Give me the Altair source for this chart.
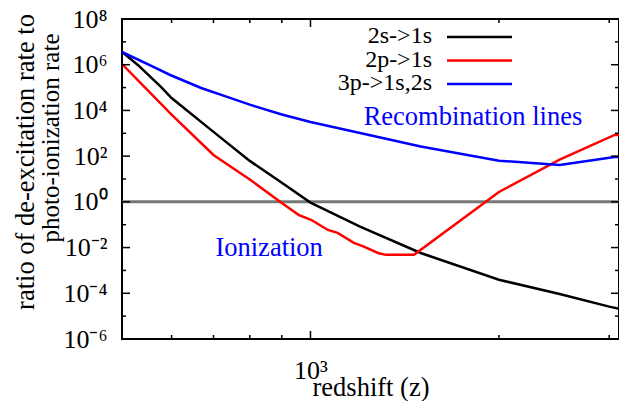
import altair as alt
import pandas as pd

# ---------------- data ----------------
series_names = ["2s->1s", "2p->1s", "3p->1s,2s"]
series_colors = ["#000000", "#ff0000", "#0000ff"]

z_2s = [500, 530, 577, 600, 700, 800, 900, 1000, 1200, 1500, 2000, 2500, 3000, 3222]
v_2s = [3.6e6, 9.8e5, 1.07e5, 3.5e4, 1.15e3, 62, 6.8, 0.93, 0.083, 5.8e-3, 3.9e-4, 9.3e-5, 2.6e-5, 1.7e-5]

z_2p = [500, 600, 700, 800, 900, 957, 1004, 1066, 1105, 1173, 1217, 1282, 1319, 1463, 2000, 2500, 3060, 3222]
v_2p = [1.07e6, 6.6e3, 112, 9.5, 0.89, 0.27, 0.16, 0.059, 0.044, 0.016, 0.011, 5.8e-3, 4.8e-3, 4.8e-3, 2.7, 71, 850, 850]

z_3p = [500, 558, 597, 669, 740, 802, 900, 1000, 1200, 1500, 2000, 2500, 3060, 3222]
v_3p = [3.6e6, 8.7e5, 3.55e5, 9.6e4, 3.7e4, 1.74e4, 6.6e3, 3.1e3, 1.02e3, 263, 63, 41, 91, 91]

reference_level = [1.0]

annot_text = ["Recombination lines", "Ionization"]
annot_z = [1216, 705]
annot_v = [2300, 4.3e-3]

y_major = [1e-6, 1e-4, 1e-2, 1e0, 1e2, 1e4, 1e6, 1e8]
y_major_labels = ["10⁻⁶", "10⁻⁴", "10⁻²", "10⁰", "10²", "10⁴", "10⁶", "10⁸"]
y_minor = [1e-5, 1e-3, 1e-1, 1e1, 1e3, 1e5, 1e7]
x_major = [1000]
x_major_labels = ["10³"]
x_minor = [600, 700, 800, 900, 2000, 3000]

x_title = "redshift (z)"
y_title = ["ratio of de-excitation rate to", "photo-ionization rate"]

# ---------------- layout / style ----------------
W, H = 497, 320
X_MAX = 3110
FONT = "Liberation Serif"
FS = 26
FS_LEG = 24

df = pd.concat([
    pd.DataFrame({"z": z_2s, "v": v_2s, "series": series_names[0]}),
    pd.DataFrame({"z": z_2p, "v": v_2p, "series": series_names[1]}),
    pd.DataFrame({"z": z_3p, "v": v_3p, "series": series_names[2]}),
], ignore_index=True)

xs = alt.Scale(type="log", domain=[500, X_MAX], nice=False)
ys = alt.Scale(type="log", domain=[1e-6, 1e8], nice=False)


def label_expr(values, labels):
    expr = f"'{labels[-1]}'"
    for v, lab in reversed(list(zip(values[:-1], labels[:-1]))):
        expr = f"(datum.value < {v * 1.5!r} ? '{lab}' : {expr})"
    return expr


x_axis = alt.Axis(values=x_major, labelExpr=label_expr(x_major, x_major_labels),
                  ticks=False, tickSize=0, domain=False, grid=False,
                  labelFont=FONT, labelFontSize=FS, labelColor="black", labelPadding=18,
                  title=x_title, titleFont=FONT, titleFontSize=26.5, titleFontWeight="normal",
                  titleColor="black", titleBaseline="alphabetic", titleY=56)
y_axis = alt.Axis(values=y_major, labelExpr=label_expr(y_major, y_major_labels),
                  ticks=False, tickSize=0, domain=False, grid=False,
                  labelFont=FONT, labelFontSize=FS, labelColor="black", labelPadding=15,
                  title=None)

X = lambda: alt.X("z:Q", scale=xs, axis=x_axis)
Y = lambda: alt.Y("v:Q", scale=ys, axis=y_axis)

ref_rule = alt.Chart(pd.DataFrame({"v": reference_level})).mark_rule(
    color="#777777", strokeWidth=3).encode(y=Y())

lines = alt.Chart(df).mark_line(strokeWidth=2.5, clip=True).encode(
    x=X(), y=Y(),
    color=alt.Color("series:N", scale=alt.Scale(domain=series_names, range=series_colors), legend=None),
)

layers = [ref_rule, lines]

TICK_COLOR = "black"


# inward tick marks on all four sides (segments: both ends given)
def xticks(vals, length):
    d = pd.DataFrame({"z": vals})
    b = alt.Chart(d).mark_rule(color=TICK_COLOR, strokeWidth=1.5).encode(
        x=X(), x2="z:Q", y=alt.value(H), y2=alt.value(H - length))
    t = alt.Chart(d).mark_rule(color=TICK_COLOR, strokeWidth=1.5).encode(
        x=X(), x2="z:Q", y=alt.value(0), y2=alt.value(length))
    return [b, t]


def yticks(vals, length):
    d = pd.DataFrame({"v": vals})
    l = alt.Chart(d).mark_rule(color=TICK_COLOR, strokeWidth=1.5).encode(
        y=Y(), y2="v:Q", x=alt.value(0), x2=alt.value(length))
    r = alt.Chart(d).mark_rule(color=TICK_COLOR, strokeWidth=1.5).encode(
        y=Y(), y2="v:Q", x=alt.value(W), x2=alt.value(W - length))
    return [l, r]


layers += xticks(x_major, 8) + xticks(x_minor, 4) + yticks(y_major, 8) + yticks(y_minor, 4)

annots = alt.Chart(pd.DataFrame({"z": annot_z, "v": annot_v, "t": annot_text})).mark_text(
    align="left", baseline="alphabetic", font=FONT, fontSize=26.5, color="#0000ff").encode(
    x=X(), y=Y(), text="t:N")
layers.append(annots)

# legend (gnuplot style: label left of sample line)
for i, (name, col) in enumerate(zip(series_names, series_colors)):
    yy = 17 + 23.5 * i
    layers.append(alt.Chart(pd.DataFrame({"t": [name]})).mark_text(
        align="right", baseline="middle", font=FONT, fontSize=FS_LEG, color="black").encode(
        text="t:N", x=alt.value(310), y=alt.value(yy)))
    layers.append(alt.Chart(pd.DataFrame({"t": [name]})).mark_rule(
        color=col, strokeWidth=2.5).encode(
        x=alt.value(325), x2=alt.value(390), y=alt.value(yy + 1)))

# y title, two rotated lines
for txt, xx, yy, fs in zip(y_title, [-96, -71], [143, 119], [26.5, 25]):
    layers.append(alt.Chart(pd.DataFrame({"t": [txt]})).mark_text(
        angle=270, align="center", baseline="middle", font=FONT, fontSize=fs, color="black").encode(
        text="t:N", x=alt.value(xx), y=alt.value(yy)))

chart = alt.layer(*layers).properties(
    width=W, height=H,
    autosize=alt.AutoSizeParams(type="none"),
    padding={"left": 114, "top": 11, "right": 0, "bottom": 62},
).configure_view(stroke="black", strokeWidth=2)

chart.save("out.html", embed_options={"renderer": "svg", "actions": False})
